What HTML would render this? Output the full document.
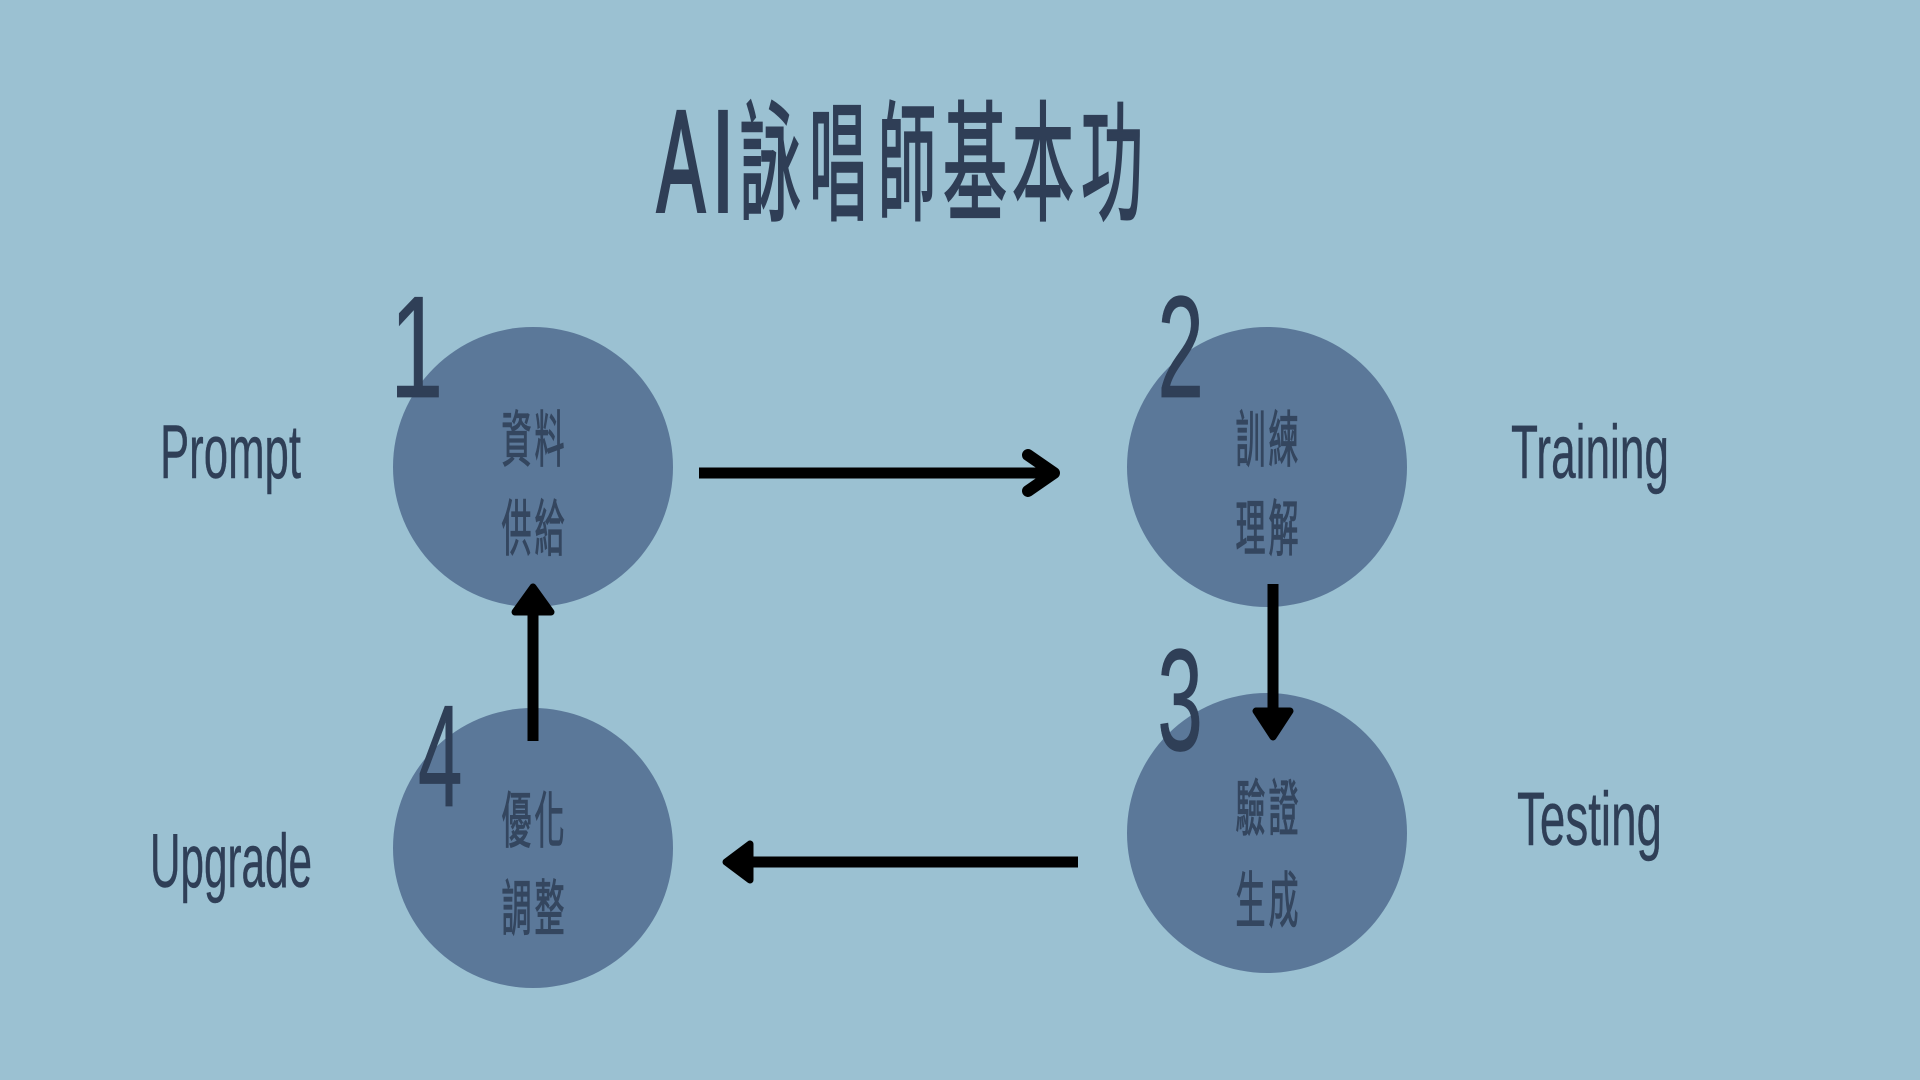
<!DOCTYPE html>
<html>
<head>
<meta charset="utf-8">
<style>
  html, body { margin: 0; padding: 0; width: 1920px; height: 1080px; overflow: hidden; background: #9bc1d2; }
  svg { display: block; }
  .cjk { font-family: "Liberation Sans", "Noto Sans CJK TC", "Noto Sans CJK SC", sans-serif; }
  .lat { font-family: "Liberation Sans Narrow", "Liberation Sans", sans-serif; }
</style>
</head>
<body>
<svg width="1920" height="1080" viewBox="0 0 1920 1080" xmlns="http://www.w3.org/2000/svg">
  <rect x="0" y="0" width="1920" height="1080" fill="#9bc1d2"/>

  <!-- Title -->
  <g fill="#2f3e56" class="cjk">
    <text font-size="144" font-weight="400" stroke="#2f3e56" stroke-width="4" transform="translate(657,211) scale(0.5,1)">A</text>
    <text font-size="144" font-weight="400" stroke="#2f3e56" stroke-width="4" transform="translate(712,211) scale(0.55,1)">I</text>
    <g stroke="#2f3e56" stroke-width="2.5" font-weight="400">
    <text x="739" y="210" font-size="130" textLength="62" lengthAdjust="spacingAndGlyphs">詠</text>
    <text x="809" y="210" font-size="130" textLength="58" lengthAdjust="spacingAndGlyphs">唱</text>
    <text x="878" y="210" font-size="130" textLength="58" lengthAdjust="spacingAndGlyphs">師</text>
    <text x="943" y="210" font-size="130" textLength="64" lengthAdjust="spacingAndGlyphs">基</text>
    <text x="1012" y="210" font-size="130" textLength="62" lengthAdjust="spacingAndGlyphs">本</text>
    <text x="1081" y="210" font-size="130" textLength="62" lengthAdjust="spacingAndGlyphs">功</text>
    </g>
  </g>

  <!-- Circles -->
  <g fill="#5b7899">
    <circle cx="533" cy="467" r="140"/>
    <circle cx="1267" cy="467" r="140"/>
    <circle cx="1267" cy="833" r="140"/>
    <circle cx="533" cy="848" r="140"/>
  </g>

  <!-- Circle texts -->
  <g fill="#34465f" stroke="#34465f" stroke-width="1.2" class="cjk" font-weight="400" font-size="61">
    <!-- C1 -->
    <text x="501.5" y="461" textLength="30" lengthAdjust="spacingAndGlyphs">資</text>
    <text x="534.5" y="461" textLength="30" lengthAdjust="spacingAndGlyphs">料</text>
    <text x="501.5" y="550" textLength="30" lengthAdjust="spacingAndGlyphs">供</text>
    <text x="534.5" y="550" textLength="30" lengthAdjust="spacingAndGlyphs">給</text>
    <!-- C2 -->
    <text x="1235.5" y="461" textLength="30" lengthAdjust="spacingAndGlyphs">訓</text>
    <text x="1268.5" y="461" textLength="30" lengthAdjust="spacingAndGlyphs">練</text>
    <text x="1235.5" y="550" textLength="30" lengthAdjust="spacingAndGlyphs">理</text>
    <text x="1268.5" y="550" textLength="30" lengthAdjust="spacingAndGlyphs">解</text>
    <!-- C3 -->
    <text x="1235.5" y="830" textLength="30" lengthAdjust="spacingAndGlyphs">驗</text>
    <text x="1268.5" y="830" textLength="30" lengthAdjust="spacingAndGlyphs">證</text>
    <text x="1235.5" y="922" textLength="30" lengthAdjust="spacingAndGlyphs">生</text>
    <text x="1268.5" y="922" textLength="30" lengthAdjust="spacingAndGlyphs">成</text>
    <!-- C4 -->
    <text x="501.5" y="842" textLength="30" lengthAdjust="spacingAndGlyphs">優</text>
    <text x="534.5" y="842" textLength="30" lengthAdjust="spacingAndGlyphs">化</text>
    <text x="501.5" y="930" textLength="30" lengthAdjust="spacingAndGlyphs">調</text>
    <text x="534.5" y="930" textLength="30" lengthAdjust="spacingAndGlyphs">整</text>
  </g>

  <!-- Side labels -->
  <g fill="#2f3f57" stroke="#2f3f57" stroke-width="0.4" class="lat" font-size="76">
    <text x="160" y="478" textLength="141" lengthAdjust="spacingAndGlyphs">Prompt</text>
    <text x="1511" y="478" textLength="158" lengthAdjust="spacingAndGlyphs">Training</text>
    <text x="1517" y="845" textLength="145" lengthAdjust="spacingAndGlyphs">Testing</text>
    <text x="150" y="887" textLength="162" lengthAdjust="spacingAndGlyphs">Upgrade</text>
  </g>

  <!-- Arrows -->
  <g stroke="#000" fill="none" stroke-width="11">
    <!-- 1 -> 2 -->
    <line x1="699" y1="473" x2="1050" y2="473" stroke-linecap="butt"/>
    <polyline points="1028,455 1054,473 1028,491" stroke-width="12" stroke-linecap="round" stroke-linejoin="round"/>
    <!-- 2 -> 3 -->
    <line x1="1273" y1="584" x2="1273" y2="715"/>
    <!-- 3 -> 4 -->
    <line x1="1078" y1="862" x2="745" y2="862"/>
    <!-- 4 -> 1 -->
    <line x1="533" y1="741" x2="533" y2="605"/>
  </g>
  <g fill="#000" stroke="#000" stroke-width="7" stroke-linejoin="round">
    <polygon points="1256,711 1290,711 1273,737"/>
    <polygon points="726,862 750,844 750,880"/>
    <polygon points="533,587 515,612 551,612"/>
  </g>

  <!-- Step numbers -->
  <g fill="#2f3f57" stroke="#2f3f57" stroke-width="0.8" class="lat" font-size="145">
    <text transform="translate(390,397) scale(0.66,1)">1</text>
    <text transform="translate(1157.5,397) scale(0.574,1)">2</text>
    <text transform="translate(1157.5,750) scale(0.56,1)">3</text>
    <text transform="translate(418,806) scale(0.55,1)">4</text>
  </g>
</svg>
</body>
</html>
